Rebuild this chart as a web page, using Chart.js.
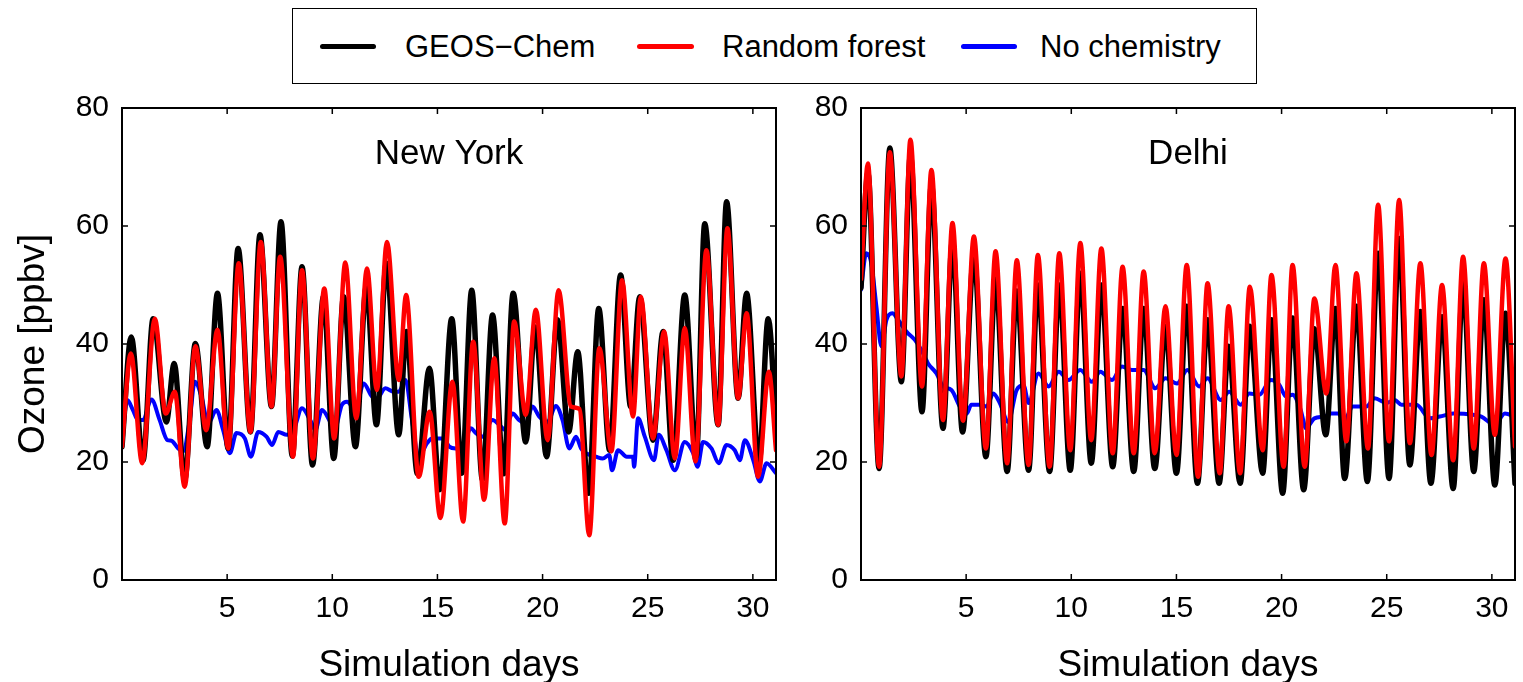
<!DOCTYPE html>
<html>
<head>
<meta charset="utf-8">
<script src="https://cdn.jsdelivr.net/npm/chart.js@4.4.1/dist/chart.umd.min.js"></script>
<style>
  html,body{margin:0;padding:0;background:#fff;}
  body{width:1523px;height:682px;position:relative;overflow:hidden;font-family:"Liberation Sans",Arial,Helvetica,sans-serif;}
  #legend{position:absolute;left:292px;top:8px;width:965px;height:76px;border:1.5px solid #000;box-sizing:border-box;}
  .sw{position:absolute;top:35px;height:5px;border-radius:3px;}
  .lt{position:absolute;top:19px;font-size:31px;line-height:38px;color:#000;white-space:nowrap;}
  #c1{position:absolute;left:0;top:0;}
  #c2{position:absolute;left:790px;top:0;}
</style>
</head>
<body>
<div id="legend">
  <div class="sw" style="left:27px;width:56px;background:#000;"></div>
  <div class="lt" style="left:112px;">GEOS&#8722;Chem</div>
  <div class="sw" style="left:344px;width:57px;background:#ff0000;"></div>
  <div class="lt" style="left:429px;">Random forest</div>
  <div class="sw" style="left:668px;width:56px;background:#0000ff;"></div>
  <div class="lt" style="left:747px;">No chemistry</div>
</div>
<canvas id="c1" width="790" height="688"></canvas>
<canvas id="c2" width="733" height="688"></canvas>
<script>
// ---------- DATA (day, ozone ppbv) ----------
const seriesNames = ["GEOS\u2212Chem", "Random forest", "No chemistry"];
const panelTitles = ["New York", "Delhi"];
const xTickValues = [5, 10, 15, 20, 25, 30];
const yTickValues = [0, 20, 40, 60, 80];

const nyGeos = [[0,22.6],[0.44,41.2],[1.0,20.3],[1.48,44.3],[2.11,26.8],[2.48,36.7],[2.98,17],[3.49,40.1],[4.05,22.6],[4.54,48.6],[5.05,22.3],[5.52,56.2],[6.11,25.1],[6.56,58.5],[7.11,29.4],[7.56,60.7],[8.1,21],[8.56,53.1],[9.06,19.5],[9.58,48],[10.07,20.6],[10.54,48.0],[11.1,22.6],[11.62,49.7],[12.1,26.3],[12.57,53.7],[13.16,24.6],[13.52,42.1],[14.05,18],[14.62,35.9],[15.11,15.3],[15.68,44.3],[16.16,18.1],[16.63,49.1],[17.14,17],[17.62,44.9],[18.15,18],[18.6,48.6],[19.2,23.4],[19.65,42.9],[20.19,20.9],[20.71,44.1],[21.24,25.1],[21.67,38.7],[22.19,14.7],[22.67,46.0],[23.19,22.0],[23.71,51.7],[24.19,29.4],[24.62,48.0],[25.25,23.7],[25.73,42.1],[26.21,20.3],[26.76,48.3],[27.31,20.9],[27.71,60.4],[28.35,26.3],[28.75,64.1],[29.3,30.8],[29.7,48.6],[30.29,19.8],[30.73,44.3],[31.1,26.5]];

const nyForest = [[0,22.6],[0.42,38.4],[0.96,19.8],[1.56,44.3],[2.08,28.2],[2.51,31.9],[2.98,15.8],[3.49,39.6],[4.0,25.4],[4.54,42.4],[5.05,22.3],[5.55,53.7],[6.11,25.1],[6.6,57.3],[7.11,29.4],[7.52,54.8],[8.13,20.9],[8.56,52.5],[9.08,20.6],[9.62,49.4],[10.09,24.0],[10.62,53.8],[11.14,27.4],[11.65,52.8],[12.12,32.2],[12.6,57.3],[13.16,33.9],[13.51,48.3],[14.11,17.5],[14.63,28.5],[15.14,10.5],[15.71,33.6],[16.22,9.9],[16.7,40.4],[17.22,13.6],[17.7,37.6],[18.2,9.6],[18.65,43.8],[19.2,28],[19.68,45.8],[20.24,23.7],[20.76,49.1],[21.35,29.4],[21.75,29],[22.22,7.6],[22.7,39.3],[23.27,21.8],[23.78,50.8],[24.3,27.7],[24.67,48.0],[25.25,24.0],[25.78,42.1],[26.29,20.6],[26.76,42.7],[27.27,20.1],[27.79,55.9],[28.35,26.3],[28.79,59.6],[29.3,30.8],[29.7,45.2],[30.25,17.5],[30.76,35.3],[31.1,22.0]];

const nyNoChem = [[0,23.7],[0.25,30.5],[0.52,28.8],[0.76,27.1],[1.0,27.1],[1.4,30.6],[1.79,27.1],[2.16,23.7],[2.35,23.6],[2.67,22.3],[2.9,21.8],[3.22,27.1],[3.46,33.6],[3.78,31.1],[4.1,26.5],[4.49,28.8],[4.81,25.4],[5.13,21.5],[5.44,24.9],[5.84,24.0],[6.13,20.9],[6.48,25.1],[6.87,24.3],[7.14,22.9],[7.43,25.1],[7.84,24.6],[8.16,25.4],[8.56,29.1],[8.95,27.1],[9.19,25.4],[9.51,28.8],[9.9,26.8],[10.1,25.5],[10.46,29.7],[10.7,30.2],[11.1,28.8],[11.49,33.3],[11.89,31.1],[12.13,30.8],[12.52,32.5],[12.92,31.9],[13.16,31.9],[13.48,33.9],[13.79,27.1],[14.11,20.9],[14.51,23.2],[14.74,24.0],[15.3,24.0],[15.56,22.6],[15.87,22.3],[16.2,22.5],[16.59,25.7],[16.83,24.9],[17.14,24.3],[17.62,27.1],[17.94,26.3],[18.2,25.5],[18.57,28.2],[18.89,27.1],[19.2,26.5],[19.52,29.4],[19.84,27.7],[20.24,26.8],[20.63,29.5],[20.95,27.1],[21.27,22.3],[21.59,24.3],[21.83,22.3],[22.06,21.5],[22.54,20.9],[22.86,20.6],[23.17,21.2],[23.3,18.6],[23.59,22.0],[24.0,20.9],[24.3,20.9],[24.35,19.2],[24.54,27.4],[24.86,24.3],[25.3,20.3],[25.52,24.6],[25.89,22.0],[26.29,18.6],[26.76,23.4],[27.16,21.5],[27.37,19.2],[27.63,23.4],[28.03,22.3],[28.38,19.8],[28.75,22.9],[29.14,22.0],[29.38,20.3],[29.62,23.7],[30.02,20.3],[30.33,16.7],[30.65,19.8],[31.1,18.1]];

const delhiGeos = [[0,49.5],[0.33,69],[0.86,18.9],[1.37,73.2],[1.92,33.6],[2.35,72],[2.9,28.5],[3.35,67],[3.9,25.7],[4.35,57.5],[4.83,25.1],[5.37,55],[5.94,20.9],[6.4,51],[6.95,18.4],[7.4,49],[7.97,18.6],[8.41,50],[8.97,18.4],[9.43,50],[9.95,18.6],[10.43,52],[10.95,19.8],[11.43,50],[11.97,19.2],[12.44,46],[12.97,18.4],[13.44,46],[13.97,18.9],[14.48,43],[15.0,18.1],[15.49,46.4],[16.0,16.4],[16.48,44.1],[17.03,16.4],[17.48,39.6],[18.03,16.4],[18.49,43],[19.1,18.1],[19.52,44.1],[20.05,14.7],[20.52,44.4],[21.05,15.3],[21.56,42.6],[22.1,24.6],[22.56,46],[23.0,17.2],[23.56,46.4],[24.08,16.7],[24.59,55.4],[25.11,17.2],[25.59,57.9],[26.1,19.5],[26.6,45.5],[27.1,16.4],[27.63,44.6],[28.16,15.5],[28.63,50.3],[29.14,18.4],[29.62,47.5],[30.14,16.1],[30.65,45.2],[31.1,16.4]];

const delhiForest = [[0,51],[0.33,70.6],[0.86,19.2],[1.37,72.5],[1.92,34.5],[2.35,74.6],[2.9,32.8],[3.35,69.5],[3.9,27.1],[4.35,60.5],[4.85,27],[5.37,58.2],[5.94,22.3],[6.4,55.7],[6.95,19.8],[7.41,54.2],[7.97,19.5],[8.41,55.1],[8.97,19.2],[9.43,55.4],[9.95,22.0],[10.43,57.1],[10.95,23.7],[11.43,56.2],[11.97,21.5],[12.44,53.1],[12.97,21.5],[13.44,52.3],[13.97,21.5],[14.48,46.4],[15.0,21.2],[15.49,53.4],[16.03,17.5],[16.48,50.3],[17.06,18.1],[17.48,46.4],[18.03,18.1],[18.49,49.7],[19.1,22.0],[19.52,51.7],[20.1,19.2],[20.52,53.4],[21.1,19.2],[21.56,47.7],[22.13,31.6],[22.56,53.4],[23.08,23.5],[23.56,52.0],[24.11,22.3],[24.59,63.6],[25.11,23.5],[25.59,64.4],[26.1,23.2],[26.6,53.7],[27.13,21.2],[27.63,50.0],[28.16,20.3],[28.63,54.8],[29.14,22.3],[29.62,53.7],[30.14,24.6],[30.65,54.5],[31.1,22.6]];

const delhiNoChem = [[0,49.2],[0.25,55.4],[0.49,53.7],[0.73,46.4],[0.97,39.6],[1.21,44.1],[1.49,45.2],[1.76,44.1],[2.16,42.1],[2.56,40.7],[2.87,39.0],[3.19,36.7],[3.59,35.0],[3.9,32.8],[4.3,32.2],[4.7,29.4],[5.02,28.2],[5.25,29.7],[5.65,29.7],[5.97,29.4],[6.29,31.6],[6.6,30.0],[7.0,26.8],[7.4,32.2],[7.73,33.0],[7.97,30.0],[8.44,35.0],[8.92,32.8],[9.4,35.3],[9.87,33.9],[10.43,35.6],[10.98,33.6],[11.38,35.3],[11.94,33.9],[12.41,36.2],[12.89,35.6],[13.44,35.6],[14.0,32.5],[14.48,34.2],[15.03,33.3],[15.52,35.6],[16.08,32.8],[16.48,34.2],[17.11,30.5],[17.51,31.9],[18.06,29.7],[18.46,31.6],[18.94,31.4],[19.49,33.9],[19.89,33.1],[20.21,31.1],[20.52,31.4],[20.91,28.8],[21.16,25.7],[21.56,27.4],[22.03,27.7],[22.35,28.2],[22.67,28.2],[22.99,27.1],[23.39,29.4],[24.03,29.4],[24.43,30.8],[24.98,30.0],[25.38,30.5],[25.7,29.7],[26.41,29.7],[27.05,27.4],[27.52,27.7],[28.16,28.2],[29.11,28.0],[29.5,27.7],[30.14,26.3],[30.62,28.2],[31.1,27.7]];

// ---------- CHARTS ----------
const FONT = '"Liberation Sans", Arial, Helvetica, sans-serif';
const toXY = arr => arr.map(p => ({x: p[0], y: p[1]}));

const framePlugin = {
  id: 'frame',
  afterDatasetsDraw(chart, args, opts) {
    const {ctx, chartArea: a, scales} = chart;
    ctx.save();
    ctx.strokeStyle = '#000';
    ctx.lineWidth = 2;
    ctx.strokeRect(a.left, a.top, a.right - a.left, a.bottom - a.top);
    ctx.lineWidth = 1.5;
    const tl = 6;
    ctx.beginPath();
    xTickValues.forEach(v => {
      const px = scales.x.getPixelForValue(v);
      ctx.moveTo(px, a.bottom); ctx.lineTo(px, a.bottom - tl);
      ctx.moveTo(px, a.top); ctx.lineTo(px, a.top + tl);
    });
    yTickValues.forEach(v => {
      const py = scales.y.getPixelForValue(v);
      ctx.moveTo(a.left, py); ctx.lineTo(a.left + tl, py);
      ctx.moveTo(a.right, py); ctx.lineTo(a.right - tl, py);
    });
    ctx.stroke();
    ctx.fillStyle = '#000';
    ctx.font = '35px ' + FONT;
    ctx.textAlign = 'center';
    ctx.textBaseline = 'middle';
    ctx.fillText(opts.title, (a.left + a.right) / 2, a.top + 46);
    ctx.restore();
  }
};

function makeChart(id, title, geos, forest, nochem, yWidth, padRight, showYTitle) {
  return new Chart(document.getElementById(id), {
    type: 'line',
    data: {
      datasets: [
        {label: seriesNames[1], data: toXY(forest), borderColor: '#ff0000', borderWidth: 4.5, order: 0},
        {label: seriesNames[0], data: toXY(geos), borderColor: '#000000', borderWidth: 5.5, order: 1},
        {label: seriesNames[2], data: toXY(nochem), borderColor: '#0000ff', borderWidth: 4, order: 2}
      ]
    },
    options: {
      responsive: false,
      animation: false,
      devicePixelRatio: 1,
      events: [],
      layout: {padding: {top: 108, right: padRight, bottom: 0, left: 0}},
      elements: {
        point: {radius: 0},
        line: {cubicInterpolationMode: 'monotone', borderCapStyle: 'round', borderJoinStyle: 'round', fill: false}
      },
      plugins: {
        legend: {display: false},
        tooltip: {enabled: false},
        frame: {title: title}
      },
      scales: {
        x: {
          type: 'linear', min: 0, max: 31.1,
          grid: {display: false, drawTicks: false},
          border: {display: false},
          afterBuildTicks: s => { s.ticks = xTickValues.map(v => ({value: v})); },
          ticks: {color: '#000', font: {size: 30, family: FONT}, padding: 11, maxRotation: 0, autoSkip: false},
          title: {display: true, text: 'Simulation days', color: '#000', font: {size: 37, family: FONT}, padding: {top: 0, bottom: 0}},
          afterFit: s => { s.height = 108; }
        },
        y: {
          type: 'linear', min: 0, max: 80,
          grid: {display: false, drawTicks: false},
          border: {display: false},
          afterBuildTicks: s => { s.ticks = yTickValues.map(v => ({value: v})); },
          ticks: {color: '#000', font: {size: 30, family: FONT}, padding: 13},
          title: {display: showYTitle, text: 'Ozone [ppbv]', color: '#000', font: {size: 37, family: FONT}, padding: {top: 12, bottom: 0}},
          afterFit: s => { s.width = yWidth; }
        }
      }
    },
    plugins: [framePlugin]
  });
}

makeChart('c1', panelTitles[0], nyGeos, nyForest, nyNoChem, 122, 14, true);
makeChart('c2', panelTitles[1], delhiGeos, delhiForest, delhiNoChem, 71, 8, false);
</script>
</body>
</html>
